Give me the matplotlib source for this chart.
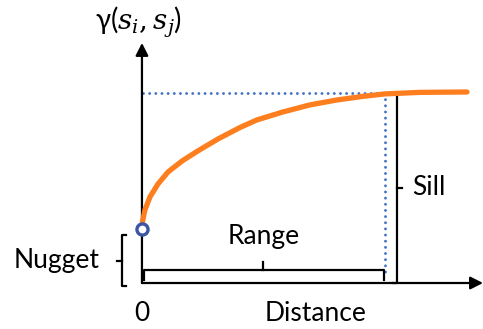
import numpy as np
import matplotlib.pyplot as plt

plt.rcParams['font.family'] = ['Lato', 'DejaVu Sans']
plt.rcParams['mathtext.fontset'] = 'dejavuserif'

# model parameters (distance / semivariance units)
nugget = 0.28
sill = 1.0
rng = 1.0

# semivariogram curve
dist = [0.0, 0.002, 0.012, 0.033, 0.066, 0.107, 0.165, 0.230, 0.313, 0.403,
        0.473, 0.580, 0.691, 0.802, 0.909, 1.0, 1.144, 1.337]
gamma = [0.284, 0.321, 0.384, 0.453, 0.521, 0.584, 0.642, 0.695, 0.758, 0.818,
         0.858, 0.900, 0.937, 0.963, 0.982, 0.995, 1.003, 1.005]

blue = '#4472C4'
orange = '#FD7E1F'
fs = 19

fig = plt.figure(figsize=(4.83, 3.29), dpi=100)
ax = fig.add_axes([0, 0, 1, 1])
ax.set_xlim(-0.584, 1.403)
ax.set_ylim(-0.242, 1.489)
ax.axis('off')

# axes with arrow heads
arrow = dict(arrowstyle='-|>,head_length=0.75,head_width=0.38',
             color='black', lw=1.6, shrinkA=0, shrinkB=0)
ax.annotate('', xy=(1.403, 0), xytext=(0, 0), arrowprops=arrow)
ax.annotate('', xy=(0, 1.263), xytext=(0, 0), arrowprops=arrow)

# sill and range guide lines (round dots)
dots = (0, (0.01, 2.1))
ax.plot([0.005, rng], [sill, sill], color=blue, lw=2.1, ls=dots,
        dash_capstyle='round')
ax.plot([rng * 0.998, rng * 0.998], [sill, 0.06], color=blue, lw=2.1,
        ls=dots, dash_capstyle='round')

# the curve and the nugget marker
ax.plot(dist, gamma, color=orange, lw=3.8, solid_capstyle='round',
        solid_joinstyle='round', zorder=3)
ax.scatter([0], [gamma[0]], s=64, facecolor='white', edgecolor='#3A56A5',
           linewidth=2.4, zorder=4)

# range bracket
by = 0.068
ax.plot([0.008, 0.008, rng * 0.994, rng * 0.994], [0.016, by, by, 0.016],
        color='black', lw=1.6, solid_joinstyle='round')
ax.plot([rng / 2, rng / 2], [by, by + 0.045], color='black', lw=1.6)
ax.text(rng / 2, 0.247, 'Range', ha='center', va='center', fontsize=fs)

# sill bracket
sx = 1.049
ax.plot([sx - 0.016, sx, sx, sx - 0.016], [sill, sill, 0.0, 0.0],
        color='black', lw=1.6)
ax.plot([sx, sx + 0.022], [sill / 2, sill / 2], color='black', lw=1.6)
ax.text(1.113, sill / 2, 'Sill', ha='left', va='center', fontsize=fs)

# nugget brace
nx = -0.082
ax.plot([nx + 0.016, nx, nx, nx + 0.016],
        [nugget - 0.03, nugget - 0.03, -0.016, -0.016], color='black', lw=1.6)
ax.plot([nx, nx - 0.02], [0.116, 0.116], color='black', lw=1.6)
ax.text(-0.173, 0.116, 'Nugget', ha='right', va='center', fontsize=fs)

# axis labels
ax.text(0, -0.158, '0', ha='center', va='center', fontsize=fs)
ax.text(0.716, -0.158, 'Distance', ha='center', va='center', fontsize=fs)
ax.text(-0.193, 1.374, r'γ($s_i, s_j$)', ha='left', va='center', fontsize=20)

fig.savefig('out.png', dpi=100)
